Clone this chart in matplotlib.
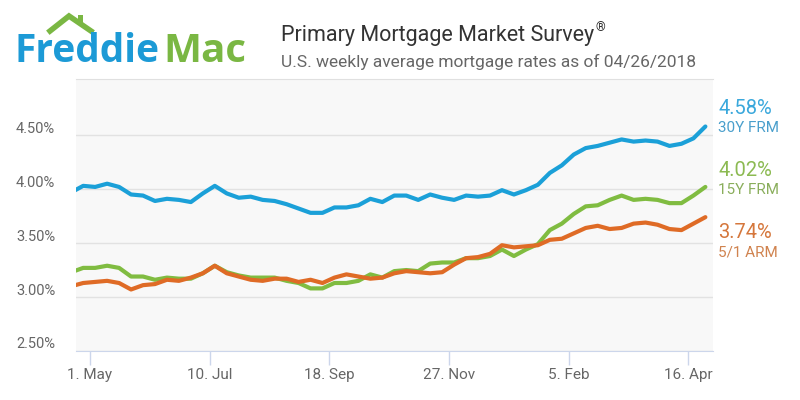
import pandas as pd
import matplotlib
matplotlib.use('Agg')
import matplotlib.pyplot as plt
import matplotlib.dates as mdates
from matplotlib.transforms import ScaledTranslation
from matplotlib.lines import Line2D
from matplotlib.patches import Rectangle

plt.rcParams['font.family'] = ['Roboto', 'DejaVu Sans']

# weekly survey dates (Thursdays), 04/20/2017 .. 04/26/2018
weeks = pd.date_range('2017-04-20', periods=54, freq='7D')

frm30 = [3.97, 4.03, 4.02, 4.05, 4.02, 3.95, 3.94, 3.89, 3.91, 3.90, 3.88,
         3.96, 4.03, 3.96, 3.92, 3.93, 3.90, 3.89, 3.86, 3.82, 3.78, 3.78,
         3.83, 3.83, 3.85, 3.91, 3.88, 3.94, 3.94, 3.90, 3.95, 3.92, 3.90,
         3.94, 3.93, 3.94, 3.99, 3.95, 3.99, 4.04, 4.15, 4.22, 4.32, 4.38,
         4.40, 4.43, 4.46, 4.44, 4.45, 4.44, 4.40, 4.42, 4.47, 4.58]
frm15 = [3.23, 3.27, 3.27, 3.29, 3.27, 3.19, 3.19, 3.16, 3.18, 3.17, 3.17,
         3.22, 3.29, 3.23, 3.20, 3.18, 3.18, 3.18, 3.15, 3.13, 3.08, 3.08,
         3.13, 3.13, 3.15, 3.21, 3.18, 3.24, 3.25, 3.24, 3.31, 3.32, 3.32,
         3.36, 3.36, 3.38, 3.44, 3.38, 3.44, 3.49, 3.62, 3.68, 3.77, 3.84,
         3.85, 3.90, 3.94, 3.90, 3.91, 3.90, 3.87, 3.87, 3.94, 4.02]
arm51 = [3.10, 3.13, 3.14, 3.15, 3.13, 3.07, 3.11, 3.12, 3.16, 3.15, 3.18,
         3.22, 3.29, 3.22, 3.19, 3.16, 3.15, 3.17, 3.17, 3.14, 3.16, 3.13,
         3.18, 3.21, 3.19, 3.17, 3.18, 3.22, 3.24, 3.23, 3.22, 3.23, 3.30,
         3.36, 3.37, 3.40, 3.48, 3.46, 3.47, 3.48, 3.53, 3.54, 3.59, 3.64,
         3.66, 3.63, 3.64, 3.68, 3.69, 3.67, 3.63, 3.62, 3.68, 3.74]

series_names = ['30Y FRM', '15Y FRM', '5/1 ARM']
yticks = [2.5, 3.0, 3.5, 4.0, 4.5]
xtick_dates = ['2017-05-01', '2017-07-10', '2017-09-18', '2017-11-27',
               '2018-02-05', '2018-04-16']
xtick_labels = ['1. May', '10. Jul', '18. Sep', '27. Nov', '5. Feb', '16. Apr']

line_colors = ['#1ba0d8', '#80bc41', '#df6b26']
value_colors = ['#3aa8dc', '#8cba52', '#d5773c']
name_colors = ['#4a9fcc', '#8aae5c', '#d0834f']
# label offsets from last point, pixels (value line, name line)
label_dy = [(-12, 6), (-11, 7), (21, 39)]

fig = plt.figure(figsize=(8, 4), dpi=100)
ax = fig.add_axes([76 / 800, 1 - 351 / 400, 637 / 800, 272 / 400])
ax.set_facecolor('#f8f8f8')

for vals, c, z in zip([frm30, frm15, arm51], line_colors, [3, 3, 4]):
    ax.plot(weeks, vals, color=c, lw=3, solid_capstyle='round',
            solid_joinstyle='round', zorder=z)

ax.set_ylim(2.5, 5.02)
ax.set_xlim(pd.Timestamp('2017-04-22 19:00'), pd.Timestamp('2018-04-30 11:00'))

ax.set_yticks(yticks)
ax.set_yticklabels(['%.2f%%' % v for v in yticks])
ax.grid(axis='y', color='#e2e2e2', lw=1)
ax.tick_params(axis='y', length=0, pad=15, labelsize=10.5, labelcolor='#666666')
for lab in ax.get_yticklabels():
    lab.set_transform(lab.get_transform() + ScaledTranslation(0, 8 / 100, fig.dpi_scale_trans))

ax.set_xticks([mdates.date2num(pd.Timestamp(d)) for d in xtick_dates])
ax.set_xticklabels(xtick_labels)
ax.tick_params(axis='x', length=10, width=1, color='#ccd6eb', pad=2,
               labelsize=11, labelcolor='#666666')

for s in ['left', 'right']:
    ax.spines[s].set_visible(False)
ax.spines['top'].set_color('#e0e0e0')
ax.spines['bottom'].set_color('#ccd6eb')

# end-of-line labels
ppx = 72 / 100
for vals, name, vc, nc, (dv, dn) in zip([frm30, frm15, arm51], series_names,
                                        value_colors, name_colors, label_dy):
    ax.annotate('%.2f%%' % vals[-1], xy=(weeks[-1], vals[-1]),
                xytext=(13 * ppx, -dv * ppx), textcoords='offset points',
                fontsize=14.5, color=vc, va='baseline', ha='left',
                annotation_clip=False)
    ax.annotate(name, xy=(weeks[-1], vals[-1]),
                xytext=(13 * ppx, -dn * ppx), textcoords='offset points',
                fontsize=11, color=nc, va='baseline', ha='left',
                annotation_clip=False)

# header
t = fig.text(281 / 800, 1 - 41 / 400, 'Primary Mortgage Market Survey',
             fontsize=15.5, color='#333333', va='baseline')
fig.text(281 / 800, 1 - 67 / 400, 'U.S. weekly average mortgage rates as of 04/26/2018',
         fontsize=12.5, color='#666666', va='baseline')
fig.canvas.draw()
bb = t.get_window_extent()
fig.text((bb.x1 + 1) / 800, 1 - 31 / 400, '®', fontsize=9, color='#333333',
         va='baseline')

# logo
blue, green = '#1c9ad6', '#7ab743'
logo_font = ['Open Sans', 'DejaVu Sans']
fig.text(15 / 800, 1 - 62 / 400, 'Freddie', fontsize=28, fontweight='bold',
         family=logo_font, color=blue, va='baseline')
fig.text(163 / 800, 1 - 62 / 400, 'Mac', fontsize=29, fontweight='bold',
         family=logo_font, color=green, va='baseline')
px = lambda x, y: (x / 800, 1 - y / 400)
rx, ry = zip(px(50, 31), px(69, 16), px(91, 31))
fig.add_artist(Line2D(rx, ry, transform=fig.transFigure, color=green,
                      lw=4, solid_joinstyle='miter'))
fig.add_artist(Rectangle(px(78, 25), 4.5 / 800, 10 / 400, transform=fig.transFigure,
                         color=green, lw=0))

fig.savefig('out.png', dpi=100)
